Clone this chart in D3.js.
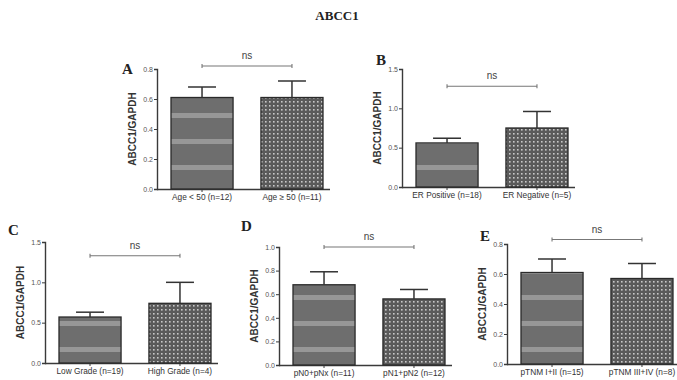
<!DOCTYPE html>
<html>
<head>
<meta charset="utf-8">
<script src="https://cdn.jsdelivr.net/npm/d3@7"></script>
<style>
  body { margin: 0; background: #fff; }
  svg { display: block; }
</style>
</head>
<body>
<div id="chart"></div>
<script>
// values
const panelIds = ['A', 'B', 'C', 'D', 'E'];
const groupsA = ['Age < 50 (n=12)', 'Age \u2265 50 (n=11)'];
const groupsB = ['ER Positive (n=18)', 'ER Negative (n=5)'];
const groupsC = ['Low Grade (n=19)', 'High Grade (n=4)'];
const groupsD = ['pN0+pNx (n=11)', 'pN1+pN2 (n=12)'];
const groupsE = ['pTNM I+II (n=15)', 'pTNM III+IV (n=8)'];
const meansA = [0.61, 0.61];
const meansB = [0.56, 0.75];
const meansC = [0.57, 0.74];
const meansD = [0.68, 0.56];
const meansE = [0.61, 0.57];
const semA = [0.07, 0.11];
const semB = [0.06, 0.21];
const semC = [0.06, 0.26];
const semD = [0.11, 0.08];
const semE = [0.09, 0.10];
const ticksA = [0, 0.2, 0.4, 0.6, 0.8];
const ticksB = [0, 0.5, 1.0, 1.5];
const ticksC = [0, 0.5, 1.0, 1.5];
const ticksD = [0, 0.2, 0.4, 0.6, 0.8, 1.0];
const ticksE = [0, 0.2, 0.4, 0.6, 0.8];
const bracketLevel = [0.82, 1.28, 1.33, 1.0, 0.83];
const sigLabel = 'ns';
const yTitle = 'ABCC1/GAPDH';
const mainTitle = 'ABCC1';

// layout (pixel placement of each panel)
const layout = [
  { x: 157, top: 69, bottom: 189, letterDx: -35, letterY: 74 },
  { x: 402, top: 69, bottom: 187, letterDx: -26, letterY: 65 },
  { x: 45, top: 242, bottom: 363, letterDx: -37, letterY: 235 },
  { x: 279, top: 247, bottom: 365, letterDx: -38, letterY: 231 },
  { x: 507, top: 244, bottom: 364, letterDx: -27, letterY: 241 }
];

const panels = [
  { groups: groupsA, means: meansA, sem: semA, ticks: ticksA },
  { groups: groupsB, means: meansB, sem: semB, ticks: ticksB },
  { groups: groupsC, means: meansC, sem: semC, ticks: ticksC },
  { groups: groupsD, means: meansD, sem: semD, ticks: ticksD },
  { groups: groupsE, means: meansE, sem: semE, ticks: ticksE }
];

const W = 677, H = 380;
const ink = '#3a3a3a';
const sans = 'Liberation Sans, Arial, sans-serif';

const svg = d3.select('#chart').append('svg')
  .attr('width', W)
  .attr('height', H);

// fills
const defs = svg.append('defs');
const stripes = defs.append('pattern')
  .attr('id', 'fillPlain')
  .attr('patternUnits', 'userSpaceOnUse')
  .attr('width', 8).attr('height', 26);
stripes.append('rect').attr('width', 8).attr('height', 26).attr('fill', '#6e6e6e');
stripes.append('rect').attr('y', 9).attr('width', 8).attr('height', 5).attr('fill', '#979797');

const dots = defs.append('pattern')
  .attr('id', 'fillDots')
  .attr('patternUnits', 'userSpaceOnUse')
  .attr('width', 4).attr('height', 4);
dots.append('rect').attr('width', 4).attr('height', 4).attr('fill', '#5a5a5a');
dots.append('rect').attr('x', 1).attr('y', 1).attr('width', 1.6).attr('height', 1.6).attr('fill', '#c8c8c8');

svg.append('text')
  .attr('x', 337).attr('y', 20)
  .attr('text-anchor', 'middle')
  .attr('font-family', 'Liberation Serif, serif')
  .attr('font-weight', 'bold')
  .attr('font-size', 13)
  .attr('fill', '#222')
  .text(mainTitle);

panels.forEach((p, i) => {
  const L = layout[i];
  const g = svg.append('g');
  const yMax = p.ticks[p.ticks.length - 1];

  const y = d3.scaleLinear().domain([0, yMax]).range([L.bottom, L.top]);
  const x = d3.scaleBand()
    .domain(p.groups)
    .range([L.x + 14, L.x + 166])
    .paddingInner(0.31);

  // y axis
  const yAxis = g.append('g')
    .attr('transform', `translate(${L.x},0)`)
    .call(d3.axisLeft(y).tickValues(p.ticks).tickSize(3).tickFormat(d3.format('.1f')));
  yAxis.select('.domain').attr('stroke', ink).attr('stroke-width', 1.4);
  yAxis.selectAll('.tick line').attr('stroke', ink);
  yAxis.selectAll('.tick text')
    .attr('x', -4)
    .attr('font-family', sans)
    .attr('font-size', 7)
    .attr('fill', '#555');

  // x axis
  const xAxis = g.append('g')
    .attr('transform', `translate(0,${L.bottom})`)
    .call(d3.axisBottom(x).tickSize(3).tickSizeOuter(0));
  xAxis.select('.domain')
    .attr('d', `M${L.x},0.5H${L.x + 173}`)
    .attr('stroke', ink).attr('stroke-width', 1.4);
  xAxis.selectAll('.tick line').attr('stroke', ink);
  xAxis.selectAll('.tick text')
    .attr('y', 5)
    .attr('font-family', sans)
    .attr('font-size', 8.3)
    .attr('fill', '#333');

  // bars
  g.selectAll('rect.bar')
    .data(p.groups)
    .join('rect')
    .attr('class', 'bar')
    .attr('x', d => x(d))
    .attr('y', (d, j) => y(p.means[j]))
    .attr('width', x.bandwidth())
    .attr('height', (d, j) => L.bottom - y(p.means[j]))
    .attr('fill', (d, j) => j === 0 ? 'url(#fillPlain)' : 'url(#fillDots)')
    .attr('stroke', '#2a2a2a')
    .attr('stroke-width', 1.3);

  // error bars (upper SEM)
  const err = g.selectAll('g.err')
    .data(p.groups)
    .join('g')
    .attr('class', 'err');
  err.append('line')
    .attr('x1', d => x(d) + x.bandwidth() / 2)
    .attr('x2', d => x(d) + x.bandwidth() / 2)
    .attr('y1', (d, j) => y(p.means[j]))
    .attr('y2', (d, j) => y(p.means[j] + p.sem[j]))
    .attr('stroke', '#333').attr('stroke-width', 1.5);
  err.append('line')
    .attr('x1', d => x(d) + x.bandwidth() / 2 - 14)
    .attr('x2', d => x(d) + x.bandwidth() / 2 + 14)
    .attr('y1', (d, j) => y(p.means[j] + p.sem[j]))
    .attr('y2', (d, j) => y(p.means[j] + p.sem[j]))
    .attr('stroke', '#333').attr('stroke-width', 1.5);

  // significance bracket
  const bx1 = x(p.groups[0]) + x.bandwidth() / 2;
  const bx2 = x(p.groups[1]) + x.bandwidth() / 2;
  const by = y(bracketLevel[i]);
  g.append('path')
    .attr('d', `M${bx1},${by - 2}V${by + 2}M${bx1},${by}H${bx2}M${bx2},${by - 2}V${by + 2}`)
    .attr('fill', 'none')
    .attr('stroke', '#777')
    .attr('stroke-width', 1.1);
  g.append('text')
    .attr('x', (bx1 + bx2) / 2)
    .attr('y', by - 7)
    .attr('text-anchor', 'middle')
    .attr('font-family', sans)
    .attr('font-size', 10)
    .attr('fill', '#444')
    .text(sigLabel);

  // y title
  g.append('text')
    .attr('transform', `translate(${L.x - 21},${(L.top + L.bottom) / 2}) rotate(-90)`)
    .attr('text-anchor', 'middle')
    .attr('font-family', sans)
    .attr('font-weight', 'bold')
    .attr('font-size', 10)
    .attr('fill', '#333')
    .text(yTitle);

  // panel letter
  g.append('text')
    .attr('x', L.x + L.letterDx)
    .attr('y', L.letterY)
    .attr('font-family', 'Liberation Serif, serif')
    .attr('font-weight', 'bold')
    .attr('font-size', 15)
    .attr('fill', '#222')
    .text(panelIds[i]);
});
</script>
</body>
</html>
